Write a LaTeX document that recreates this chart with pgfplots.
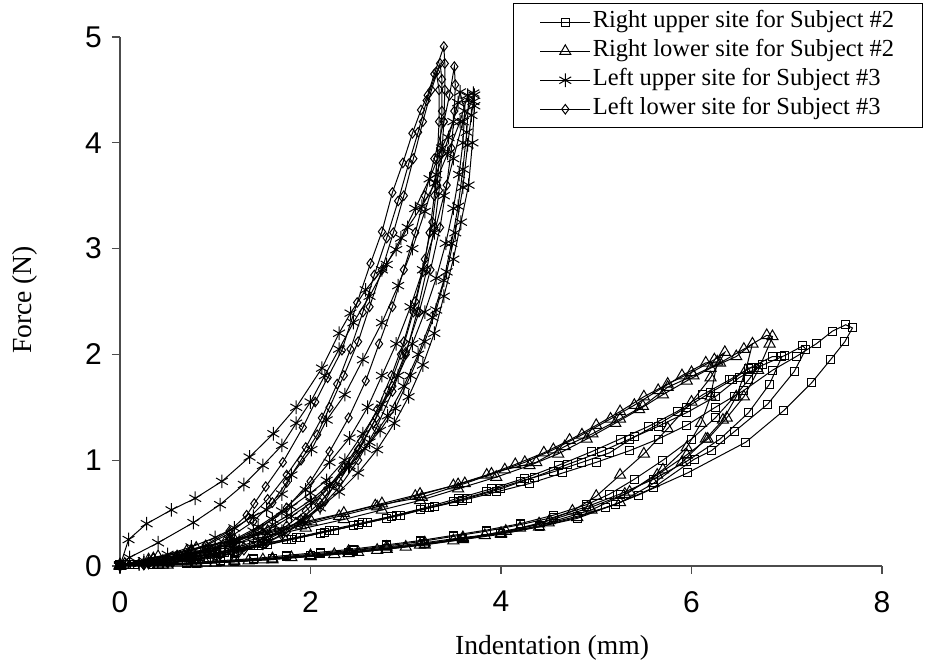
\documentclass[border=0pt]{standalone}
\usepackage{fontspec}
\setmainfont{Liberation Serif}
\newfontfamily\arialfont{Liberation Sans}
\usepackage{pgfplots}
\pgfplotsset{compat=1.18}
\pgfplotsset{
  base/.style={black, line width=0.5pt, mark options={solid, line width=0.5pt}},
  sq/.style={base, mark=square, mark size=2pt},
  tr/.style={base, mark=triangle, mark size=3.2pt},
  st/.style={base, mark=asterisk, mark size=3.4pt},
  dm/.style={base, mark=diamond, mark size=2.4pt},
}
\begin{document}
\begin{tikzpicture}
\begin{axis}[
  name=ax,
  scale only axis, width=381pt, height=264.5pt,
  xmin=0, xmax=8, ymin=0, ymax=5,
  axis lines*=left,
  axis line style={black!70, line width=0.6pt, -},
  tick align=outside, major tick length=4pt,
  tick style={black!70, line width=0.6pt},
  xtick={0,2,4,6,8}, ytick={0,1,2,3,4,5},
  /pgf/number format/assume math mode=true,
  ticklabel style={font=\arialfont\fontsize{15}{16}\selectfont},
  xticklabel style={yshift=-5pt},
  yticklabel style={xshift=-1.5pt},
  xlabel={Indentation (mm)}, ylabel={Force (N)},
  label style={font=\fontsize{13.8}{15}\selectfont},
  x label style={at={(axis description cs:0.567,0)}, anchor=center, yshift=-41pt},
  y label style={at={([xshift=-47.5pt]axis description cs:0,0.503)}, anchor=center},
  legend style={at={(axis description cs:0.516,1.064)}, anchor=north west,
    draw=black, line width=0.6pt, inner xsep=13pt, inner ysep=2pt,
    font=\fontsize{12.25}{14}\selectfont,
    nodes={inner xsep=1pt, inner ysep=1.5pt, text height=8.6pt, text depth=2.9pt},
    cells={anchor=west}, row sep=0pt},
  legend image code/.code={\draw[mark repeat=2,mark phase=2,#1] plot coordinates {(0pt,0pt) (12.5pt,0pt) (25pt,0pt)};},
]
% ---------- Right upper site, Subject #2 (squares)
\addplot[sq] coordinates {(0,0)(0.4,0.01)(0.8,0.03)(1.2,0.05)(1.6,0.07)(2.0,0.1)(2.4,0.13)(2.8,0.17)(3.2,0.21)(3.6,0.26)(4.0,0.31)(4.4,0.37)(4.8,0.45)(5.1,0.55)(5.44,0.67)(5.96,0.88)(6.57,1.17)(6.97,1.47)(7.26,1.73)(7.46,1.95)(7.61,2.12)(7.69,2.25)
 (7.62,2.28)(7.48,2.22)(7.31,2.1)(7.1,1.98)(6.85,1.85)(6.55,1.66)(6.25,1.5)(5.95,1.33)(5.65,1.2)(5.35,1.09)(5.0,0.98)(4.65,0.88)(4.3,0.78)(3.95,0.7)(3.6,0.62)(3.25,0.55)(2.9,0.48)(2.55,0.41)(2.2,0.34)(1.85,0.27)(1.5,0.21)(1.15,0.15)(0.8,0.09)(0.45,0.04)(0.1,0.01)};
\addlegendentry{Right upper site for Subject \#2}
\addplot[sq, forget plot] coordinates {(0,0)(0.4,0.01)(0.8,0.02)(1.2,0.04)(1.6,0.07)(2.0,0.1)(2.4,0.13)(2.8,0.17)(3.2,0.21)(3.6,0.26)(4.0,0.31)(4.4,0.38)(4.8,0.47)(5.2,0.58)(5.6,0.74)(6.03,1.01)(6.21,1.09)(6.45,1.27)(6.8,1.53)(7.08,1.84)(7.2,2.05)
 (7.17,2.08)(6.98,1.99)(6.75,1.9)(6.5,1.78)(6.25,1.6)(5.95,1.45)(5.65,1.32)(5.35,1.2)(5.05,1.08)(4.7,0.96)(4.35,0.84)(4.0,0.73)(3.65,0.64)(3.3,0.56)(2.95,0.48)(2.6,0.41)(2.25,0.34)(1.9,0.27)(1.55,0.2)(1.2,0.14)(0.85,0.09)(0.5,0.05)(0.15,0.01)};
\addplot[sq, forget plot] coordinates {(0,0)(0.35,0.01)(0.7,0.02)(1.05,0.04)(1.4,0.06)(1.75,0.09)(2.1,0.12)(2.45,0.15)(2.8,0.19)(3.15,0.23)(3.5,0.28)(3.85,0.33)(4.2,0.39)(4.55,0.46)(4.9,0.56)(5.25,0.68)(5.6,0.82)(5.95,0.99)(6.3,1.2)(6.6,1.45)(6.82,1.72)(6.95,1.98)
 (6.85,1.98)(6.63,1.88)(6.4,1.76)(6.12,1.62)(5.85,1.46)(5.55,1.32)(5.25,1.2)(4.95,1.08)(4.6,0.95)(4.25,0.83)(3.9,0.73)(3.55,0.64)(3.2,0.55)(2.85,0.47)(2.5,0.39)(2.15,0.32)(1.8,0.25)(1.45,0.19)(1.1,0.13)(0.75,0.08)(0.4,0.04)(0.05,0.01)};
\addplot[sq, forget plot] coordinates {(0,0)(0.35,0.01)(0.7,0.03)(1.05,0.05)(1.4,0.07)(1.75,0.1)(2.1,0.13)(2.45,0.16)(2.8,0.2)(3.15,0.24)(3.5,0.29)(3.85,0.34)(4.2,0.4)(4.55,0.48)(4.9,0.58)(5.14,0.68)(5.4,0.82)(5.7,1.0)(6.0,1.2)(6.25,1.4)(6.45,1.6)(6.6,1.76)(6.7,1.88)
 (6.6,1.87)(6.43,1.76)(6.2,1.64)(5.95,1.5)(5.69,1.36)(5.4,1.22)(5.14,1.07)(4.85,0.98)(4.55,0.89)(4.2,0.8)(3.85,0.7)(3.5,0.61)(3.15,0.53)(2.8,0.45)(2.45,0.38)(2.1,0.31)(1.75,0.25)(1.4,0.19)(1.05,0.13)(0.7,0.08)(0.35,0.04)(0,0.01)};
% ---------- Right lower site, Subject #2 (triangles)
\addplot[tr] coordinates {(0,0)(0.4,0.01)(0.8,0.03)(1.2,0.05)(1.6,0.07)(2.0,0.1)(2.4,0.14)(2.8,0.18)(3.2,0.22)(3.6,0.27)(3.83,0.29)(4.2,0.36)(4.51,0.43)(4.93,0.55)(5.3,0.68)(5.64,0.86)(5.95,1.05)(6.17,1.2)(6.37,1.4)(6.55,1.6)(6.7,1.85)(6.82,2.1)(6.85,2.17)
 (6.79,2.18)(6.55,2.05)(6.3,1.92)(6.02,1.8)(5.75,1.69)(5.49,1.51)(5.25,1.39)(4.96,1.25)(4.67,1.13)(4.37,0.98)(4.04,0.91)(3.62,0.78)(3.17,0.65)(2.68,0.57)(2.01,0.42)(1.6,0.33)(1.2,0.25)(0.8,0.17)(0.4,0.09)(0.05,0.02)};
\addlegendentry{Right lower site for Subject \#2}
\addplot[tr, forget plot] coordinates {(0,0)(0.4,0.01)(0.8,0.02)(1.2,0.04)(1.6,0.06)(2.0,0.09)(2.4,0.12)(2.8,0.16)(3.2,0.2)(3.6,0.25)(4.0,0.3)(4.4,0.37)(4.8,0.46)(5.25,0.6)(5.6,0.78)(5.9,0.98)(6.15,1.2)(6.33,1.38)(6.47,1.6)(6.57,1.85)(6.64,2.1)
 (6.47,1.98)(6.2,1.87)(5.95,1.75)(5.7,1.62)(5.45,1.48)(5.2,1.35)(4.9,1.2)(4.6,1.06)(4.3,0.95)(3.95,0.84)(3.55,0.73)(3.15,0.62)(2.75,0.53)(2.35,0.44)(1.95,0.36)(1.55,0.28)(1.15,0.2)(0.75,0.13)(0.35,0.06)(0,0.01)};
\addplot[tr, forget plot] coordinates {(0,0)(0.5,0.01)(1.0,0.03)(1.5,0.06)(2.0,0.09)(2.5,0.13)(3.0,0.18)(3.5,0.24)(4.0,0.31)(4.4,0.4)(4.75,0.52)(5.0,0.66)(5.25,0.86)(5.5,1.06)(5.75,1.3)(6.0,1.55)(6.2,1.78)(6.35,2.02)
 (6.24,1.95)(6.0,1.83)(5.75,1.72)(5.5,1.6)(5.25,1.46)(5.0,1.33)(4.72,1.19)(4.45,1.07)(4.15,0.96)(3.85,0.86)(3.5,0.76)(3.1,0.66)(2.7,0.56)(2.3,0.47)(1.9,0.38)(1.5,0.3)(1.1,0.22)(0.7,0.14)(0.3,0.06)(0,0.01)};
\addplot[tr, forget plot] coordinates {(0,0)(0.45,0.01)(0.9,0.03)(1.35,0.05)(1.8,0.08)(2.25,0.11)(2.7,0.15)(3.15,0.2)(3.6,0.26)(4.05,0.33)(4.5,0.41)(4.95,0.53)(5.35,0.7)(5.7,0.91)(5.95,1.12)(6.1,1.35)(6.2,1.6)(6.27,1.93)
 (6.15,1.92)(5.9,1.8)(5.65,1.66)(5.4,1.52)(5.15,1.39)(4.85,1.24)(4.55,1.1)(4.25,0.98)(3.9,0.87)(3.55,0.77)(3.15,0.68)(2.75,0.59)(2.35,0.5)(1.95,0.42)(1.55,0.33)(1.15,0.24)(0.75,0.15)(0.35,0.07)(0,0.01)};
% ---------- Left upper site, Subject #3 (asterisks)
\addplot[st] coordinates {(0,0)(0.09,0.25)(0.28,0.40)(0.54,0.53)(0.79,0.64)(1.07,0.80)(1.36,1.03)(1.61,1.25)(1.85,1.50)(2.12,1.87)(2.30,2.20)(2.42,2.39)(2.58,2.61)(2.75,2.80)(2.90,2.99)(3.02,3.20)(3.17,3.40)(3.31,3.62)(3.44,3.90)(3.57,4.20)(3.65,4.45)
 (3.71,4.47)(3.71,4.39)(3.69,4.26)(3.65,3.98)(3.6,3.58)(3.52,3.15)(3.43,2.78)(3.32,2.42)(3.2,2.12)(3.05,1.8)(2.89,1.49)(2.73,1.28)(2.57,1.11)(2.4,0.94)(2.2,0.77)(2.0,0.62)(1.75,0.47)(1.5,0.34)(1.25,0.24)(1.0,0.16)(0.75,0.1)(0.5,0.06)(0.25,0.03)(0,0.01)};
\addlegendentry{Left upper site for Subject \#3}
\addplot[st, forget plot] coordinates {(0,0)(0.1,0.08)(0.4,0.22)(0.77,0.41)(1.05,0.58)(1.3,0.77)(1.5,0.95)(1.7,1.14)(1.85,1.35)(2.0,1.55)(2.15,1.8)(2.3,2.05)(2.45,2.3)(2.62,2.55)(2.8,2.85)(2.95,3.1)(3.1,3.38)(3.25,3.66)(3.38,3.95)(3.5,4.2)(3.57,4.48)
 (3.62,4.3)(3.6,4.0)(3.56,3.7)(3.5,3.38)(3.42,3.05)(3.32,2.72)(3.2,2.4)(3.07,2.1)(2.92,1.8)(2.75,1.53)(2.55,1.25)(2.36,1.0)(2.17,0.81)(2.0,0.69)(1.8,0.56)(1.6,0.44)(1.4,0.33)(1.2,0.24)(1.0,0.17)(0.75,0.11)(0.5,0.06)(0.25,0.03)(0,0.01)};
\addplot[st, forget plot] coordinates {(0,0)(0.25,0.05)(0.5,0.11)(0.75,0.18)(1.0,0.27)(1.2,0.36)(1.4,0.47)(1.54,0.53)(1.7,0.68)(1.8,0.86)(2.01,1.1)(2.17,1.38)(2.36,1.62)(2.55,1.95)(2.75,2.3)(2.92,2.65)(3.07,3.0)(3.2,3.35)(3.32,3.7)(3.45,4.05)(3.55,4.38)
 (3.66,4.4)(3.64,4.1)(3.6,3.75)(3.55,3.4)(3.48,3.05)(3.4,2.7)(3.28,2.35)(3.13,2.0)(2.98,1.7)(2.81,1.42)(2.62,1.17)(2.41,0.95)(2.2,0.75)(2.01,0.6)(1.8,0.47)(1.63,0.38)(1.4,0.28)(1.2,0.2)(0.95,0.13)(0.7,0.08)(0.45,0.05)(0.2,0.02)(0,0)};
\addplot[st, forget plot] coordinates {(0,0)(0.3,0.04)(0.6,0.09)(0.9,0.15)(1.2,0.25)(1.45,0.37)(1.7,0.52)(1.95,0.72)(2.2,0.98)(2.41,1.21)(2.6,1.5)(2.75,1.8)(2.9,2.1)(3.05,2.45)(3.18,2.8)(3.3,3.15)(3.4,3.5)(3.5,3.85)(3.6,4.2)(3.72,4.45)
 (3.72,4.35)(3.7,4.0)(3.66,3.6)(3.58,3.25)(3.5,2.9)(3.4,2.55)(3.3,2.2)(3.18,1.9)(3.03,1.6)(2.88,1.35)(2.7,1.1)(2.5,0.88)(2.3,0.7)(2.1,0.55)(1.9,0.43)(1.7,0.33)(1.45,0.24)(1.2,0.17)(0.95,0.11)(0.7,0.07)(0.45,0.04)(0.2,0.02)(0,0)};
% ---------- Left lower site, Subject #3 (diamonds)
\addplot[dm] coordinates {(0,0)(0.3,0.04)(0.6,0.1)(0.9,0.2)(1.15,0.33)(1.33,0.48)(1.41,0.59)(1.53,0.75)(1.71,0.98)(1.92,1.31)(2.05,1.55)(2.18,1.78)(2.33,2.04)(2.49,2.49)(2.63,2.86)(2.75,3.16)(2.86,3.53)(2.97,3.81)(3.07,4.09)(3.16,4.31)(3.23,4.45)(3.3,4.65)(3.4,4.91)
 (3.41,4.75)(3.41,4.5)(3.4,4.2)(3.38,3.9)(3.35,3.55)(3.3,3.2)(3.22,2.8)(3.12,2.4)(3.0,2.0)(2.86,1.65)(2.69,1.3)(2.5,1.0)(2.3,0.74)(2.1,0.55)(1.9,0.4)(1.7,0.29)(1.5,0.2)(1.25,0.13)(1.0,0.08)(0.75,0.05)(0.5,0.03)(0.25,0.01)(0,0)};
\addlegendentry{Left lower site for Subject \#3}
\addplot[dm, forget plot] coordinates {(0,0)(0.3,0.03)(0.6,0.08)(0.9,0.16)(1.15,0.27)(1.4,0.42)(1.6,0.6)(1.75,0.79)(1.9,1.0)(2.07,1.24)(2.2,1.5)(2.35,1.8)(2.5,2.12)(2.62,2.45)(2.75,2.8)(2.87,3.15)(2.98,3.5)(3.08,3.85)(3.18,4.2)(3.27,4.5)(3.36,4.75)
 (3.38,4.6)(3.38,4.3)(3.36,3.95)(3.33,3.6)(3.28,3.25)(3.2,2.9)(3.1,2.5)(2.98,2.12)(2.85,1.8)(2.7,1.48)(2.53,1.18)(2.35,0.93)(2.15,0.7)(1.95,0.52)(1.75,0.38)(1.55,0.27)(1.3,0.18)(1.05,0.11)(0.8,0.07)(0.55,0.04)(0.3,0.02)(0,0)};
\addplot[dm, forget plot] coordinates {(0,0)(0.3,0.03)(0.6,0.07)(0.9,0.13)(1.2,0.22)(1.45,0.34)(1.75,0.55)(2.0,0.8)(2.2,1.08)(2.4,1.4)(2.58,1.75)(2.72,2.1)(2.86,2.45)(2.98,2.8)(3.1,3.15)(3.2,3.5)(3.3,3.85)(3.4,4.2)(3.46,4.45)(3.51,4.72)
 (3.52,4.55)(3.51,4.3)(3.48,3.95)(3.43,3.6)(3.36,3.2)(3.26,2.8)(3.14,2.4)(3.0,2.02)(2.86,1.7)(2.69,1.4)(2.5,1.1)(2.33,0.9)(2.15,0.61)(1.95,0.45)(1.75,0.32)(1.55,0.23)(1.3,0.15)(1.05,0.1)(0.8,0.06)(0.55,0.03)(0.3,0.02)(0,0)};
\addplot[dm, forget plot] coordinates {(0,0)(0.3,0.04)(0.6,0.1)(0.9,0.19)(1.15,0.31)(1.35,0.45)(1.55,0.63)(1.75,0.86)(1.95,1.12)(2.12,1.4)(2.28,1.72)(2.42,2.05)(2.55,2.4)(2.67,2.75)(2.8,3.1)(2.92,3.45)(3.03,3.8)(3.13,4.1)(3.22,4.4)(3.32,4.67)
 (3.35,4.5)(3.35,4.2)(3.33,3.85)(3.3,3.5)(3.25,3.15)(3.18,2.78)(3.08,2.4)(2.95,2.0)(2.81,1.65)(2.66,1.35)(2.48,1.05)(2.3,0.8)(2.1,0.6)(1.9,0.44)(1.7,0.32)(1.5,0.23)(1.25,0.15)(1.0,0.1)(0.75,0.06)(0.5,0.03)(0.25,0.01)(0,0)};
\end{axis}
\path ([xshift=-60pt,yshift=-51.5pt]ax.south west) rectangle ([xshift=403.5pt,yshift=283pt]ax.south west);
\end{tikzpicture}
\end{document}
